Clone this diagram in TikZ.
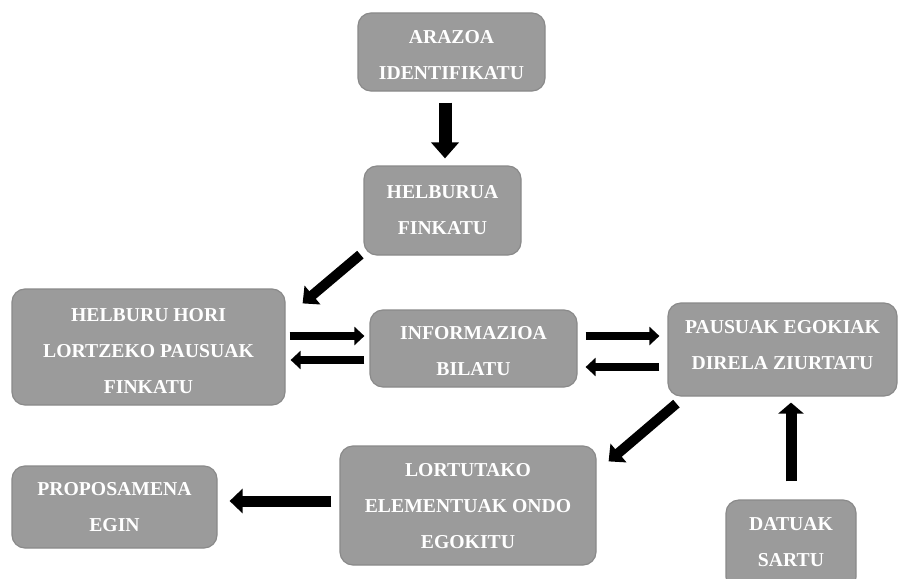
\documentclass[tikz,border=0pt]{standalone}
\usepackage{fontspec}
\setmainfont{Liberation Serif}
\usetikzlibrary{arrows.meta,calc}
\definecolor{boxfill}{RGB}{155,155,155}
\definecolor{boxline}{RGB}{138,138,138}
\begin{document}
\begin{tikzpicture}[x=1pt,y=-1pt,
  box/.style={draw=boxline, fill=boxfill, line width=1.2pt, rounded corners=13pt, inner sep=0pt},
  boxtxt/.style={align=center, text=white, font=\bfseries\fontsize{19.7}{36}\selectfont, inner sep=0pt},
  arrbig/.style={line width=11pt, -{Triangle[length=13pt,width=24pt]}},
  arrsmall/.style={line width=8pt, -{Triangle[length=10pt,width=18pt]}},
]
\useasboundingbox[fill=white] (0,0) rectangle (901,578);

\node[box, minimum width=187pt, minimum height=78pt,
  label={[boxtxt,yshift=-3pt]center:ARAZOA\\IDENTIFIKATU}] (n1) at (451.5,52) {};
\node[box, minimum width=157pt, minimum height=89pt,
  label={[boxtxt]center:HELBURUA\\FINKATU}] (n2) at (442.5,210.5) {};
\node[box, minimum width=273pt, minimum height=116pt,
  label={[boxtxt,yshift=-4pt]center:HELBURU HORI\\LORTZEKO PAUSUAK\\FINKATU}] (n3) at (148.5,347) {};
\node[box, minimum width=207pt, minimum height=77pt,
  label={[boxtxt,yshift=-3pt]center:INFORMAZIOA\\BILATU}] (n4) at (473.5,348.5) {};
\node[box, minimum width=229pt, minimum height=93pt,
  label={[boxtxt,yshift=4.5pt]center:PAUSUAK EGOKIAK\\DIRELA ZIURTATU}] (n5) at (782.5,349.5) {};
\node[box, minimum width=256pt, minimum height=119pt,
  label={[boxtxt,yshift=-1pt]center:LORTUTAKO\\ELEMENTUAK ONDO\\EGOKITU}] (n6) at (468,505.5) {};
\node[box, minimum width=205pt, minimum height=82pt,
  label={[boxtxt]center:PROPOSAMENA\\EGIN}] (n7) at (114.5,507) {};
\node[box, minimum width=130pt, minimum height=90pt,
  label={[boxtxt,yshift=3pt]center:DATUAK\\SARTU}] (n8) at (791,545) {};

% 1 -> 2
\draw[line width=13pt, -{Triangle[length=16pt,width=27pt]}]
  ([xshift=-6.5pt,yshift=-11pt]n1.south) -- ([xshift=2.5pt,yshift=7pt]n2.north);
% 2 -> 3
\draw[arrbig, line width=10pt] ([xshift=-3pt,yshift=1pt]n2.south west) -- ([xshift=17pt,yshift=-15pt]n3.north east);
% 3 <-> 4
\draw[arrsmall] ([xshift=4pt,yshift=11pt]n3.east) -- ([xshift=-5pt,yshift=12.5pt]n4.west);
\draw[arrsmall] ([xshift=-5pt,yshift=-11.5pt]n4.west) -- ([xshift=5pt,yshift=-13pt]n3.east);
% 4 <-> 5
\draw[arrsmall] ([xshift=8pt,yshift=12.5pt]n4.east) -- ([xshift=-8pt,yshift=13.5pt]n5.west);
\draw[arrsmall] ([xshift=-8pt,yshift=-17.5pt]n5.west) -- ([xshift=8pt,yshift=-18.5pt]n4.east);
% 5 -> 6
\draw[arrbig, line width=10pt] ([xshift=9pt,yshift=-7pt]n5.south west) -- ([xshift=12pt,yshift=-16pt]n6.north east);
% 6 -> 7
\draw[arrbig] ([xshift=-8pt,yshift=4.5pt]n6.west) -- ([xshift=12pt,yshift=6pt]n7.east);
% 8 -> 5
\draw[line width=11pt, -{Triangle[length=11pt,width=25pt]}]
  ([xshift=0pt,yshift=18pt]n8.north) -- ([xshift=8.5pt,yshift=-6pt]n5.south);
\end{tikzpicture}
\end{document}
